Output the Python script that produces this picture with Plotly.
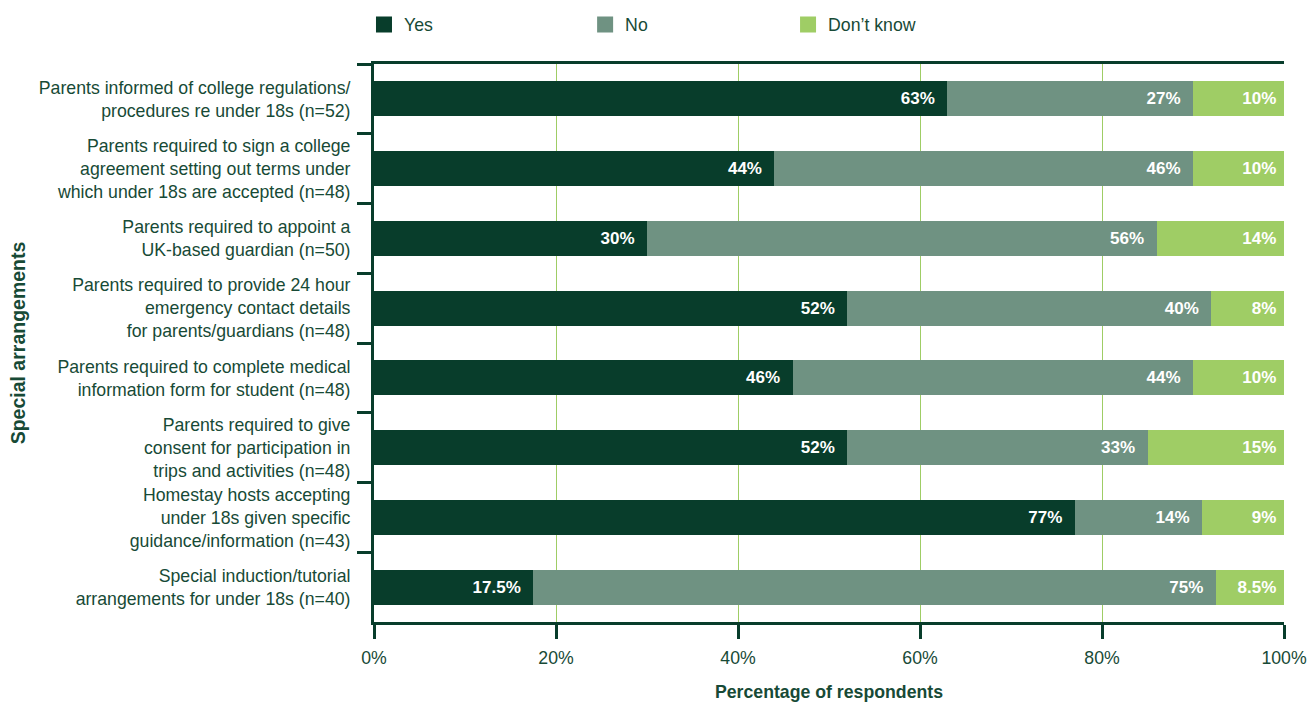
import plotly.graph_objects as go

categories = [
    "Parents informed of college regulations/<br>procedures re under 18s (n=52)",
    "Parents required to sign a college<br>agreement setting out terms under<br>which under 18s are accepted (n=48)",
    "Parents required to appoint a<br>UK-based guardian (n=50)",
    "Parents required to provide 24 hour<br>emergency contact details<br>for parents/guardians (n=48)",
    "Parents required to complete medical<br>information form for student (n=48)",
    "Parents required to give<br>consent for participation in<br>trips and activities (n=48)",
    "Homestay hosts accepting<br>under 18s given specific<br>guidance/information (n=43)",
    "Special induction/tutorial<br>arrangements for under 18s (n=40)",
]

yes_vals = [63, 44, 30, 52, 46, 52, 77, 17.5]
no_vals = [27, 46, 56, 40, 44, 33, 14, 75]
dk_vals = [10, 10, 14, 8, 10, 15, 9, 7.5]   # drawn widths (last bar drawn to 100%)

yes_labels = ["63%", "44%", "30%", "52%", "46%", "52%", "77%", "17.5%"]
no_labels = ["27%", "46%", "56%", "40%", "44%", "33%", "14%", "75%"]
dk_labels = ["10%", "10%", "14%", "8%", "10%", "15%", "9%", "8.5%"]

x_ticks = [0, 20, 40, 60, 80, 100]
x_ticktext = ["0%", "20%", "40%", "60%", "80%", "100%"]

C_YES = "#083d2b"
C_NO = "#6f9282"
C_DK = "#9fcd65"
TXT = "#174a36"
FONT = "Liberation Sans, Arial, sans-serif"
FS = 17.7

NB = "\u00a0"

fig = go.Figure()
series = [
    ("Yes", yes_vals, yes_labels, C_YES, NB * 2, "legend"),
    ("No", no_vals, no_labels, C_NO, NB * 2, "legend2"),
    ("Don\u2019t know", dk_vals, dk_labels, C_DK, NB, "legend3"),
]
for name, vals, labels, col, pad, lg in series:
    fig.add_trace(go.Bar(
        name=name, y=categories, x=vals, orientation="h",
        marker=dict(color=col, line=dict(width=0)),
        text=[t + pad for t in labels], textposition="inside",
        insidetextanchor="end", textangle=0,
        textfont=dict(color="white", size=17, family=FONT, weight="bold"),
        width=0.5, showlegend=False, hoverinfo="skip",
    ))
for name, vals, labels, col, pad, lg in series:
    fig.add_trace(go.Scatter(
        x=[None], y=[None], mode="markers", name=name,
        marker=dict(symbol="square", size=20, color=col),
        legend=lg, showlegend=True, hoverinfo="skip",
    ))

leg_common = dict(orientation="h", yanchor="middle", y=1.07, xanchor="left",
                  bgcolor="rgba(0,0,0,0)", borderwidth=0,
                  font=dict(size=FS, color=TXT, family=FONT))

fig.update_layout(
    width=1311, height=702,
    margin=dict(l=374, r=27, t=64, b=80, autoexpand=False),
    paper_bgcolor="white", plot_bgcolor="white",
    barmode="stack",
    font=dict(family=FONT, size=FS, color=TXT),
    legend=dict(x=-0.011, **leg_common),
    legend2=dict(x=0.232, **leg_common),
    legend3=dict(x=0.455, **leg_common),
    xaxis=dict(
        range=[0, 100], tickvals=x_ticks, ticktext=x_ticktext,
        showgrid=True, gridcolor=C_DK, gridwidth=1,
        showline=True, linecolor=C_YES, linewidth=3, mirror=True,
        ticks="outside", ticklen=14, tickwidth=3, tickcolor=C_YES,
        ticklabelstandoff=4,
        tickfont=dict(size=FS, color=TXT),
        zeroline=False, automargin=False,
        title=dict(text="<b>Percentage of respondents</b>", font=dict(size=FS, color=TXT), standoff=22),
    ),
    yaxis=dict(
        autorange="reversed", type="category",
        showline=True, linecolor=C_YES, linewidth=3,
        ticks="outside", tickson="boundaries", ticklen=14, tickwidth=3, tickcolor=C_YES,
        ticklabelstandoff=17,
        tickfont=dict(size=FS, color=TXT),
        showgrid=False, zeroline=False, automargin=False,
        title=dict(text="<b>Special arrangements</b>", font=dict(size=19.5, color=TXT), standoff=8),
    ),
)

fig.write_html("out.html", config={"displayModeBar": False},
               post_script="document.body.style.margin='0';")
